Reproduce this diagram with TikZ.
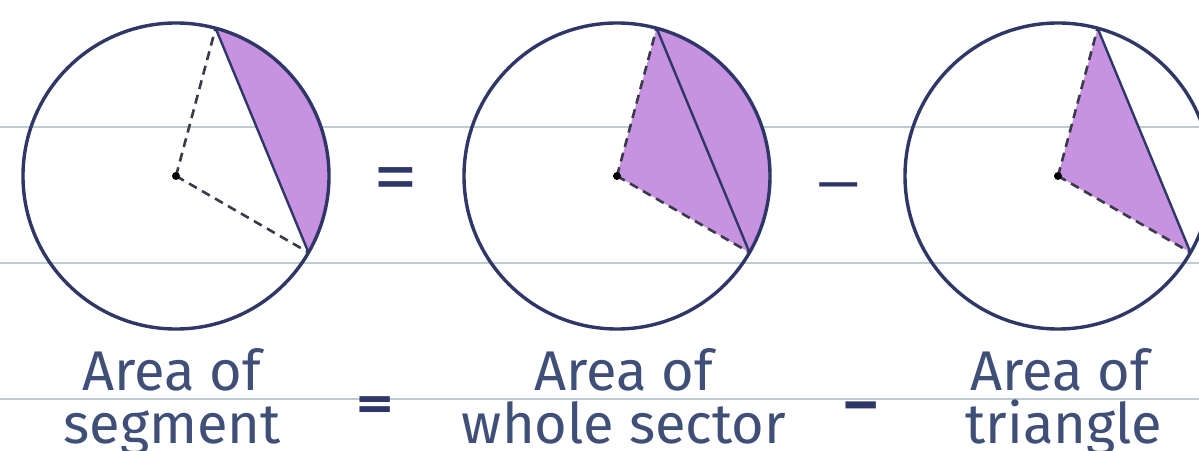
\documentclass[tikz,border=0pt]{standalone}
\usepackage{fontspec}
\setmainfont{Fira Sans}
\usetikzlibrary{calc}
\definecolor{ink}{HTML}{2E3768}
\definecolor{ruleclr}{HTML}{BCCCCF}
\definecolor{segfill}{HTML}{C792E0}
\definecolor{txt}{HTML}{3F4F78}
\definecolor{dashclr}{HTML}{3A3A4A}
\tikzset{
  ruleline/.style={draw=ruleclr, line width=2pt},
  circ/.style={draw=ink, line width=3.4pt},
  radius line/.style={draw=dashclr, line width=2.6pt, dash pattern=on 9pt off 6pt},
  chordline/.style={draw=ink, line width=2.4pt},
  shade/.style={fill=segfill},
  lbl/.style={text=txt, font=\fontsize{56}{60}\selectfont, inner sep=0pt, anchor=base},
  sign/.style={text=ink, inner sep=0pt}
}
\begin{document}
\begin{tikzpicture}[x=1pt,y=1pt]
\useasboundingbox (0,0) rectangle (1199,450);
\fill[white] (0,0) rectangle (1199,450);
% ruled lines
\coordinate (r1l) at (0,323); \coordinate (r1r) at (1199,323);
\coordinate (r2l) at (0,187); \coordinate (r2r) at (1199,187);
\coordinate (r3l) at (0,51);  \coordinate (r3r) at (1199,51);
\draw[ruleline] (r1l) -- (r1r);
\draw[ruleline] (r2l) -- (r2r);
\draw[ruleline] (r3l) -- (r3r);
% centres and chord end points
\def\R{153}
\foreach \i/\cx in {1/176,2/617,3/1058}{
  \coordinate (c\i) at (\cx,274);
  \coordinate (a\i) at ($(c\i)+(75:\R)$);
  \coordinate (b\i) at ($(c\i)+(-30:\R)$);
}
% fills
\fill[shade] (a1) arc[start angle=75, end angle=-30, radius=\R] -- cycle;
\fill[shade] (c2) -- (a2) arc[start angle=75, end angle=-30, radius=\R] -- cycle;
\fill[shade] (c3) -- (a3) -- (b3) -- cycle;
% circles
\draw[circ] (c1) circle[radius=\R];
\draw[circ] (c2) circle[radius=\R];
\draw[circ] (c3) circle[radius=\R];
% radii
\draw[radius line] (c1) -- (a1);
\draw[radius line] (c1) -- (b1);
\draw[radius line] (c2) -- (a2);
\draw[radius line] (c2) -- (b2);
\draw[radius line] (c3) -- (a3);
\draw[radius line] (c3) -- (b3);
% chords
\draw[chordline] (a1) -- (b1);
\draw[chordline] (a2) -- (b2);
\draw[chordline] (a3) -- (b3);
% centre dots
\fill[black] (c1) circle[radius=4];
\fill[black] (c2) circle[radius=4];
\fill[black] (c3) circle[radius=4];
% signs between circles
\node[sign] (eqtop) at (396,265) {\scalebox{1.6}[1.3]{\fontsize{56}{60}\selectfont =}};
\node[sign] (mintop) at (839,257) {\scalebox{1.8}[1]{\fontsize{56}{60}\selectfont −}};
% labels
\node[lbl] (l1a) at (172,60) {Area of};
\node[lbl] (l1b) at (172,7) {segment};
\node[lbl] (l2a) at (624,60) {Area of};
\node[lbl] (l2b) at (624,7) {whole sector};
\node[lbl] (l3a) at (1060,60) {Area of};
\node[lbl] (l3b) at (1064,7) {triangle};
\node[sign] (eqbot) at (375,41) {\scalebox{1.5}[1.0]{\fontsize{48}{50}\selectfont\bfseries =}};
\node[sign] (minbot) at (861,37) {\scalebox{1.5}[1.2]{\fontsize{48}{50}\selectfont\bfseries −}};
\end{tikzpicture}
\end{document}
